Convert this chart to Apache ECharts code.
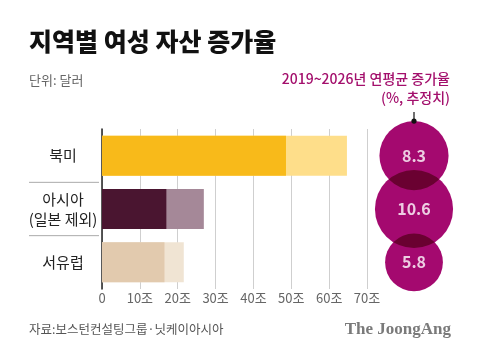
<!DOCTYPE html>
<html><head><meta charset="utf-8">
<script src="https://cdn.jsdelivr.net/npm/echarts@6/dist/echarts.min.js"></script>
<style>html,body{margin:0;padding:0;background:#fff}#c{width:480px;height:357px}</style>
</head><body><div id="c"></div>
<script>
const categories = ['북미', '아시아\n(일본 제외)', '서유럽'];
const wealth2019 = [48.6, 17.0, 16.5];   // dark bars (조 달러)
const wealth2026 = [64.7, 26.9, 21.6];   // light bars (조 달러)
const growthRate = [8.3, 10.6, 5.8];     // 연평균 증가율 (%)
const xTicks = [0, 10, 20, 30, 40, 50, 60, 70];

const darkColors = ['#F8BA1A', '#4A1530', '#E2CAAE'];
const lightColors = ['#FEDE8A', '#A58898', '#F0E4D3'];
const FONT = '"Noto Sans CJK KR", "Noto Sans", sans-serif';

const chart = echarts.init(document.getElementById('c'), null, {renderer: 'canvas'});
const option = {
  backgroundColor: '#fff',
  animation: false,
  textStyle: {fontFamily: FONT},
  grid: [
    {left: 102, right: 113, top: 129, bottom: 68},
    {left: 374, width: 80, top: 129, bottom: 68}
  ],
  xAxis: [{
    type: 'value', gridIndex: 0, min: xTicks[0], max: xTicks[xTicks.length - 1], interval: 10,
    axisLine: {show: false}, axisTick: {show: false},
    splitLine: {lineStyle: {color: '#cfcfcf', width: 1}},
    axisLabel: {color: '#666', fontSize: 13, margin: 3, fontFamily: FONT,
      formatter: v => v === 0 ? '0' : v + '조'}
  }, {
    type: 'value', gridIndex: 1, min: -1, max: 1, show: false
  }],
  yAxis: [{
    type: 'category', gridIndex: 0, data: categories, inverse: true,
    axisLine: {show: true, lineStyle: {color: '#222', width: 1.5}},
    axisTick: {show: false},
    axisLabel: {color: '#222', fontSize: 15, align: 'center', margin: 39, lineHeight: 20, fontFamily: FONT}
  }, {
    type: 'category', gridIndex: 1, data: categories, inverse: true, show: false
  }],
  series: [{
    type: 'bar', name: '2026', xAxisIndex: 0, yAxisIndex: 0, barWidth: 40, barGap: '-100%',
    data: wealth2026.map((v, i) => ({value: v, itemStyle: {color: lightColors[i]}}))
  }, {
    type: 'bar', name: '2019', xAxisIndex: 0, yAxisIndex: 0, barWidth: 40, barGap: '-100%',
    data: wealth2019.map((v, i) => ({value: v, itemStyle: {color: darkColors[i]}}))
  }, {
    type: 'scatter', name: 'rate', xAxisIndex: 1, yAxisIndex: 1,
    blendMode: 'multiply',
    symbolSize: v => 24 * Math.sqrt(v[2]),
    itemStyle: {color: '#A4096F', opacity: 1},
    data: growthRate.map((r, i) => [0, i, r])
  }, {
    type: 'scatter', name: 'rateLabel', xAxisIndex: 1, yAxisIndex: 1, z: 5,
    symbolSize: 1, itemStyle: {color: 'rgba(0,0,0,0)'},
    label: {show: true, position: 'inside', color: '#fff', fontSize: 16, fontWeight: 'bold',
      fontFamily: FONT, formatter: p => p.value[2].toFixed(1)},
    data: growthRate.map((r, i) => [0, i, r])
  }]
};
chart.setOption(option);

// decorations
const p0 = chart.convertToPixel({gridIndex: 0}, [0, 0]);
const p1 = chart.convertToPixel({gridIndex: 0}, [0, 1]);
const p2 = chart.convertToPixel({gridIndex: 0}, [0, 2]);
const sepY1 = (p0[1] + p1[1]) / 2, sepY2 = (p1[1] + p2[1]) / 2;
const c0 = chart.convertToPixel({xAxisIndex: 1, yAxisIndex: 1}, [0, 0]);
const r0 = 12 * Math.sqrt(growthRate[0]);
const topY = c0[1] - r0;

chart.setOption({
  graphic: [
    {type: 'text', left: 29, top: 29, style: {text: '지역별 여성 자산 증가율', font: '900 25px ' + FONT, fill: '#111'}},
    {type: 'text', left: 29, top: 74, style: {text: '단위: 달러', font: '13px ' + FONT, fill: '#666'}},
    {type: 'text', right: 30, top: 72, style: {text: '2019~2026년 연평균 증가율', font: '500 14px ' + FONT, fill: '#A30F6C', textAlign: 'right'}},
    {type: 'text', right: 30, top: 91, style: {text: '(%, 추정치)', font: '500 14px ' + FONT, fill: '#A30F6C', textAlign: 'right'}},
    {type: 'line', shape: {x1: c0[0], y1: 112, x2: c0[0], y2: topY}, style: {stroke: '#111', lineWidth: 1.2}, z: 10},
    {type: 'circle', shape: {cx: c0[0], cy: topY, r: 2.6}, style: {fill: '#111'}, z: 10},
    {type: 'line', shape: {x1: 29, y1: sepY1, x2: 99, y2: sepY1}, style: {stroke: '#aaa', lineWidth: 1}},
    {type: 'line', shape: {x1: 29, y1: sepY2, x2: 99, y2: sepY2}, style: {stroke: '#aaa', lineWidth: 1}},
    {type: 'text', left: 29, top: 323, style: {text: '자료:보스턴컨설팅그룹·닛케이아시아', font: '12.5px ' + FONT, fill: '#555'}},
    {type: 'text', right: 29, top: 321, style: {text: 'The JoongAng', font: 'bold 17px "Liberation Serif", "DejaVu Serif", serif', fill: '#7a7a7a', textAlign: 'right'}}
  ]
});
</script></body></html>
